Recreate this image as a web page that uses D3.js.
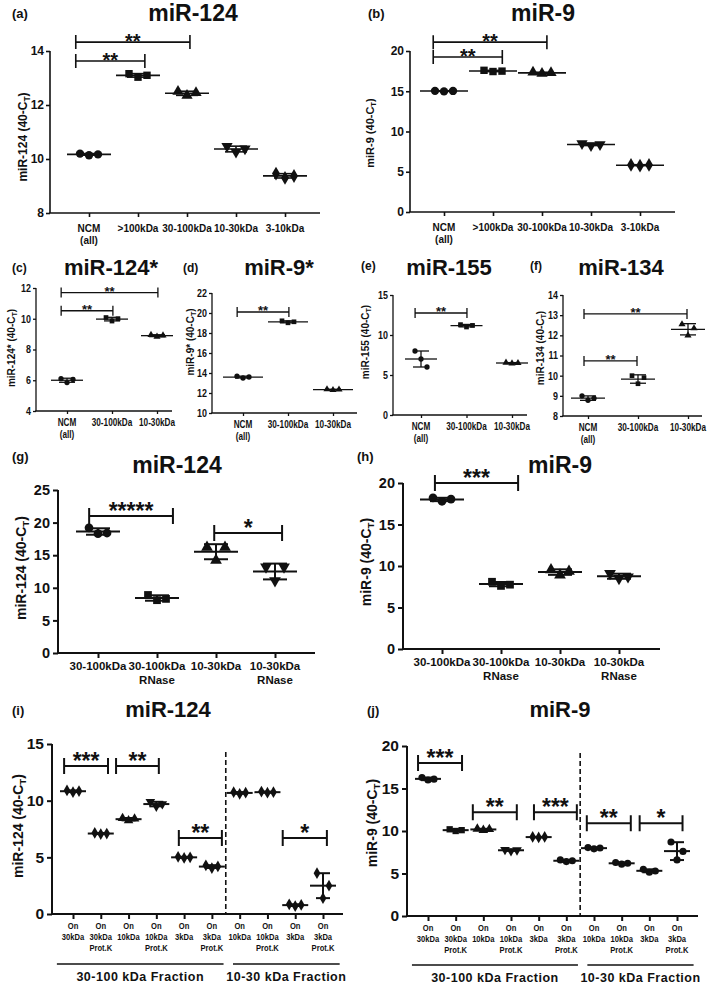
<!DOCTYPE html>
<html><head><meta charset="utf-8">
<script src="https://cdn.jsdelivr.net/npm/d3@7"></script>
<style>body{margin:0;background:#fff} svg{display:block}</style>
</head><body><svg id="c" width="709" height="994"></svg>
<script>
// ---------------- DATA ----------------
const catsA = ["NCM|(all)", ">100kDa", "30-100kDa", "10-30kDa", "3-10kDa"];
const valsA = [[10.2,10.14,10.17],[13.16,13.03,13.1],[12.5,12.35,12.45],[10.47,10.26,10.38],[9.46,9.3,9.37]];
const ticksA = [8,10,12,14];
const sigA = [[-0.27,1.14,13.63,"**"],[-0.27,2.06,14.33,"**"]];

const catsB = ["NCM|(all)", ">100kDa", "30-100kDa", "10-30kDa", "3-10kDa"];
const valsB = [[15.05,14.98,15.04],[17.6,17.45,17.5],[17.35,17.2,17.3],[8.5,8.25,8.4],[5.85,5.75,5.85]];
const ticksB = [0,5,10,15,20];
const sigB = [[-0.22,1.19,19.25,"**"],[-0.22,2.1,21.1,"**"]];

const catsCF = ["NCM|(all)", "30-100kDa", "10-30kDa"];
const valsC = [[6.1,5.85,6.05],[10.08,9.85,10.0],[8.95,8.83,8.92]];
const ticksC = [4,6,8,10,12];
const sigC = [[-0.13,1.02,10.52,"**"],[-0.13,2.02,11.7,"**"]];
const valsD = [[13.68,13.5,13.6],[19.22,19.02,19.12],[12.37,12.3,12.35]];
const ticksD = [10,12,14,16,18,20,22];
const sigD = [[-0.13,1.02,20.1,"**"]];
const valsE = [[8.0,7.0,6.0],[11.3,11.0,11.2],[6.55,6.45,6.5]];
const ticksE = [0,5,10,15];
const sigE = [[-0.13,1.01,12.75,"**"]];
const valsF = [[9.0,8.78,8.88],[10.0,9.6,9.9],[12.55,12.0,12.35]];
const ticksF = [8,9,10,11,12,13,14];
const sigF = [[-0.08,0.98,10.73,"**"],[-0.08,1.98,13.06,"**"]];

const catsGH = ["30-100kDa", "30-100kDa|RNase", "10-30kDa", "10-30kDa|RNase"];
const valsG = [[19.2,18.3,18.4],[8.9,8.1,8.3],[16.2,14.2,16.2],[13.2,11.1,13.2]];
const ticksG = [0,5,10,15,20,25];
const sigG = [[-0.15,1.27,21.0,"*****"],[1.97,3.12,18.4,"*"]];
const valsH = [[18.2,17.8,18.05],[8.1,7.6,7.75],[9.55,8.9,9.35],[9.1,8.5,8.7]];
const ticksH = [0,5,10,15,20];
const sigH = [[-0.12,1.29,20.0,"***"]];

const catsIJ = ["On|30kDa","On|30kDa|Prot.K","On|10kDa","On|10kDa|Prot.K","On|3kDa","On|3kDa|Prot.K",
                "On|10kDa","On|10kDa|Prot.K","On|3kDa","On|3kDa|Prot.K"];
const fractionsIJ = ["30-100 kDa Fraction", "10-30 kDa Fraction"];
const valsI = [[10.9,10.75,10.85],[7.15,7.05,7.1],[8.45,8.25,8.4],[9.9,9.5,9.7],[5.05,4.95,5.0],[4.3,4.05,4.2],
               [10.75,10.6,10.7],[10.8,10.7,10.75],[0.85,0.7,0.8],[3.6,1.4,2.5]];
const ticksI = [0,5,10,15];
const sigI = [[-0.32,1.26,13.06,"***"],[1.55,3.09,13.06,"**"],[3.81,5.36,6.7,"**"],[7.55,9.14,6.7,"*"]];
const valsJ = [[16.3,16.0,16.1],[10.2,10.0,10.1],[10.25,10.1,10.2],[7.8,7.65,7.75],[9.3,9.25,9.3],[6.6,6.4,6.5],
               [8.05,7.9,8.0],[6.3,6.1,6.2],[5.5,5.15,5.3],[8.7,6.6,7.6]];
const ticksJ = [0,5,10,15,20];
const sigJ = [[-0.36,1.23,18.0,"***"],[1.62,3.21,12.2,"**"],[3.83,5.38,12.2,"***"],[5.74,7.33,10.9,"**"],[7.65,9.2,10.9,"*"]];

// ---------------- RENDER ----------------
const FONT = '"Liberation Sans", Arial, Helvetica, sans-serif';
const INK = '#111';
const svg = d3.select('#c');
svg.append('rect').attr('width',709).attr('height',994).attr('fill','#fff');

const SYM = {
  circle: d3.symbolCircle, square: d3.symbolSquare, tri: d3.symbolTriangle,
  down: d3.symbolTriangle, diamond: d3.symbolDiamond
};

function txt(g, x, y, s, size, anchor) {
  return g.append('text').attr('x',x).attr('y',y).attr('font-family',FONT).attr('font-weight','bold')
    .attr('font-size',size).attr('text-anchor',anchor||'middle').attr('fill',INK).text(s);
}

function ylabel(g, cx, cy, name, size) {
  const t = g.append('text').attr('transform',`translate(${cx},${cy}) rotate(-90)`)
    .attr('font-family',FONT).attr('font-weight','bold').attr('font-size',size)
    .attr('text-anchor','middle').attr('dominant-baseline','middle').attr('fill',INK);
  t.append('tspan').text(name + ' (40-C');
  t.append('tspan').attr('font-size',size*0.7).attr('dy',size*0.3).text('T');
  t.append('tspan').attr('dy',-size*0.3).text(')');
}

function panel(cats, vals, ticks, sig, L) {
  const g = svg.append('g');
  const y = d3.scaleLinear().domain(L.domain).range([L.yb, L.yt]);
  const x = d3.scalePoint().domain(cats.map((c,i)=>i)).range([L.cx0, L.cx1]);
  const xf = f => L.cx0 + f * x.step();
  // y axis
  const ya = g.append('g').attr('transform',`translate(${L.x0},0)`)
    .call(d3.axisLeft(y).tickValues(ticks).tickSize(L.tk).tickSizeOuter(0).tickPadding(L.tp).tickFormat(d3.format('d')));
  ya.attr('font-family',FONT).attr('font-size',L.tf).attr('font-weight','bold').attr('color',INK);
  ya.select('.domain').attr('stroke-width',L.sw).attr('d',`M0,${L.yb}V${L.yt}`);
  ya.selectAll('.tick line').attr('stroke-width',L.sw);
  if (L.tsq) ya.selectAll('.tick text').attr('transform',`translate(${-L.tk-L.tp},0) scale(${L.tsq},1)`).attr('x',0);
  // x axis
  const xa = g.append('g').attr('transform',`translate(0,${L.yb})`)
    .call(d3.axisBottom(x).tickSize(L.tk).tickFormat(''));
  xa.attr('color',INK);
  xa.select('.domain').remove();
  xa.selectAll('.tick line').attr('stroke-width',L.sw);
  g.append('line').attr('x1',L.x0-L.sw/2).attr('x2',L.x1).attr('y1',L.yb).attr('y2',L.yb)
    .attr('stroke',INK).attr('stroke-width',L.sw);
  // category labels (horizontally condensed like the original narrow face)
  const f = L.csq || 1;
  cats.forEach((c,i)=>{
    c.split('|').forEach((line,j)=>{
      g.append('text').attr('font-family',FONT).attr('font-weight','bold')
        .attr('font-size',L.cf).attr('text-anchor','middle').attr('fill',INK)
        .attr('transform',`translate(${x(i)},${L.yb+L.ly+j*L.lh}) scale(${f},1)`).text(line);
    });
  });
  // points + mean/SD
  vals.forEach((vs,i)=>{
    const m = d3.mean(vs), sd = d3.deviation(vs);
    const cx = x(i);
    const shape = L.shapes[i % L.shapes.length];
    const sym = d3.symbol().type(SYM[shape]).size(L.ms);
    vs.forEach((v,k)=>{
      g.append('path').attr('d',sym()).attr('fill',INK)
        .attr('transform',`translate(${cx+(k-1)*L.jit},${y(v)})${shape==='down'?' rotate(180)':''}`);
    });
    g.append('line').attr('x1',cx-L.mw).attr('x2',cx+L.mw).attr('y1',y(m)).attr('y2',y(m))
      .attr('stroke',INK).attr('stroke-width',L.sw);
    g.append('line').attr('x1',cx).attr('x2',cx).attr('y1',y(m-sd)).attr('y2',y(m+sd))
      .attr('stroke',INK).attr('stroke-width',L.sw);
    [m-sd,m+sd].forEach(e=>g.append('line').attr('x1',cx-L.cw).attr('x2',cx+L.cw).attr('y1',y(e)).attr('y2',y(e))
      .attr('stroke',INK).attr('stroke-width',L.sw));
  });
  // significance brackets
  sig.forEach(([a,b,v,lab])=>{
    const yy = y(v), xa1 = xf(a), xb1 = xf(b);
    g.append('path').attr('d',`M${xa1},${yy-L.be}V${yy+L.be}M${xa1},${yy}H${xb1}M${xb1},${yy-L.be}V${yy+L.be}`)
      .attr('stroke',INK).attr('stroke-width',L.sw).attr('fill','none');
    txt(g,(xa1+xb1)/2, yy+L.so, lab, L.sf);
  });
  // titles
  txt(g, L.tx, L.ty, L.title, L.tsz);
  txt(g, L.px, L.py, L.plab, L.psz, 'start');
  ylabel(g, L.lx, L.ly2, L.yname, L.lsz);
  return {g, x, y, xf};
}

const big = {tk:4, tp:2, sw:1.6, tf:12, cf:10, ly:19, lh:12, ms:55, jit:9, mw:22, cw:11, be:7, so:6, sf:20, tsz:23, psz:13, lsz:12, shapes:['circle','square','tri','down','diamond']};
panel(catsA, valsA, ticksA, sigA, Object.assign({}, big, {
  x0:50, x1:320, cx0:89, cx1:285, domain:[8,14], yb:213, yt:51,
  title:'miR-124', tx:193, ty:21, plab:'(a)', px:12, py:18, yname:'miR-124', lx:24, ly2:137}));
panel(catsB, valsB, ticksB, sigB, Object.assign({}, big, {
  x0:410, x1:675, cx0:444, cx1:640, domain:[0,20], yb:212, yt:51, mw:24,
  title:'miR-9', tx:543, ty:21, plab:'(b)', px:368, py:18, yname:'miR-9', lx:371, ly2:133, lsz:11}));

const small = {tk:3, tp:2, sw:1.3, tf:10.5, tsq:0.85, cf:10.5, csq:0.78, ly:15, lh:12, ms:22, jit:6, mw:16, cw:8, be:5, so:3, sf:13, tsz:22, psz:12, lsz:10, shapes:['circle','square','tri']};
panel(catsCF, valsC, ticksC, sigC, Object.assign({}, small, {
  x0:36, x1:172, cx0:67, cx1:157, domain:[4,12], yb:411, yt:288,
  title:'miR-124*', tx:111, ty:275, plab:'(c)', px:12, py:272, yname:'miR-124*', lx:12, ly2:348}));
panel(catsCF, valsD, ticksD, sigD, Object.assign({}, small, {
  x0:212, x1:357, cx0:243, cx1:333, domain:[10,22], yb:413, yt:293, mw:20,
  title:'miR-9*', tx:279, ty:275, plab:'(d)', px:183, py:272, yname:'miR-9*', lx:191, ly2:342}));
panel(catsCF, valsE, ticksE, sigE, Object.assign({}, small, {
  x0:393, x1:527, cx0:421, cx1:512, domain:[0,15], yb:415, yt:295,
  title:'miR-155', tx:449, ty:275, plab:'(e)', px:361, py:270, yname:'miR-155', lx:366, ly2:342}));
panel(catsCF, valsF, ticksF, sigF, Object.assign({}, small, {
  x0:563, x1:702, cx0:588, cx1:688, domain:[8,14], yb:416, yt:295, mw:17,
  title:'miR-134', tx:621, ty:275, plab:'(f)', px:530, py:270, yname:'miR-134', lx:541, ly2:348}));

const mid = {tk:5, tp:3, sw:2, tf:14.5, cf:11.5, ly:17, lh:14, ms:60, jit:9, mw:22, cw:12, be:8, so:3, sf:23, tsz:23, psz:13, lsz:14, shapes:['circle','square','tri','down']};
panel(catsGH, valsG, ticksG, sigG, Object.assign({}, mid, {
  x0:58, x1:315, cx0:98, cx1:275, domain:[0,25], yb:653, yt:490,
  title:'miR-124', tx:177, ty:473, plab:'(g)', px:12, py:461, yname:'miR-124', lx:22, ly2:568}));
panel(catsGH, valsH, ticksH, sigH, Object.assign({}, mid, {
  x0:403, x1:660, cx0:442, cx1:619, domain:[0,20], yb:649, yt:483,
  title:'miR-9', tx:560, ty:473, plab:'(h)', px:357, py:461, yname:'miR-9', lx:367, ly2:562}));

const low = {tk:5, tp:3, sw:2, tf:15.5, cf:9.5, csq:0.8, ly:15, lh:11, ms:40, jit:6, mw:13, cw:7, be:8, so:3, sf:23, tsz:22, psz:13, lsz:14};
function fracs(P, L) {
  const spans = [[-0.58,5.42],[5.76,9.6]];
  spans.forEach(([a,b],k)=>{
    P.g.append('line').attr('x1',P.xf(a)).attr('x2',P.xf(b)).attr('y1',L.gy).attr('y2',L.gy).attr('stroke',INK).attr('stroke-width',1.3);
    txt(P.g,(P.xf(a)+P.xf(b))/2, L.gy+17, fractionsIJ[k], 12.5).attr('letter-spacing',0.5);
  });
  P.g.append('line').attr('x1',P.xf(5.5)).attr('x2',P.xf(5.5)).attr('y1',L.dy0).attr('y2',L.yb)
    .attr('stroke',INK).attr('stroke-width',1.6).attr('stroke-dasharray','5,3');
}
const LI = Object.assign({}, low, {
  x0:52, x1:343, cx0:73, cx1:323, domain:[0,15], yb:914, yt:744, gy:964, dy0:752,
  shapes:['diamond','diamond','tri','down','diamond','diamond','diamond','diamond','diamond','diamond'],
  title:'miR-124', tx:168, ty:717, plab:'(i)', px:12, py:715, yname:'miR-124', lx:19, ly2:826});
fracs(panel(catsIJ, valsI, ticksI, sigI, LI), LI);
const LJ = Object.assign({}, low, {
  x0:407, x1:698, cx0:428, cx1:677, domain:[0,20], yb:916, yt:746, gy:965, dy0:753,
  shapes:['circle','square','tri','down','diamond','circle','circle','circle','circle','circle'],
  title:'miR-9', tx:560, ty:717, plab:'(j)', px:367, py:715, yname:'miR-9', lx:373, ly2:823});
fracs(panel(catsIJ, valsJ, ticksJ, sigJ, LJ), LJ);
</script></body></html>
